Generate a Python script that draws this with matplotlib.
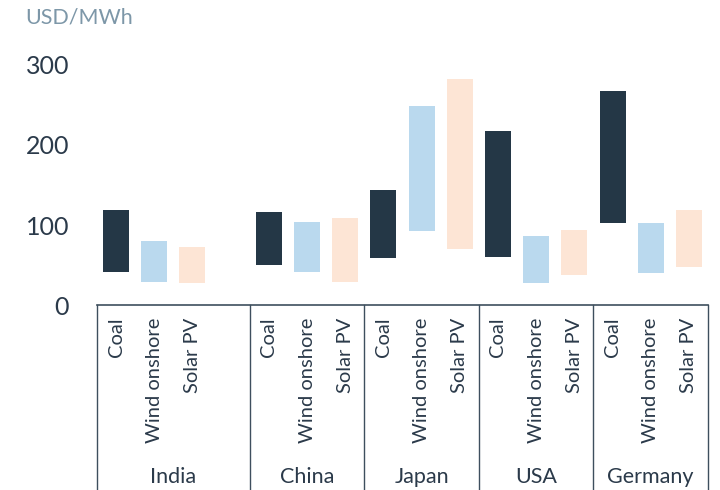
import matplotlib.pyplot as plt

countries = ["India", "China", "Japan", "USA", "Germany"]
techs = ["Coal", "Wind onshore", "Solar PV"]

# low / high ends of each range, one list per technology, in country order
coal_low = [41, 50, 59, 60, 102]
coal_high = [119, 116, 144, 218, 268]
wind_low = [29, 41, 93, 27, 40]
wind_high = [80, 104, 249, 86, 103]
solar_low = [27, 29, 70, 38, 48]
solar_high = [72, 109, 283, 94, 119]

colors = ["#243746", "#bad9ee", "#fde5d5"]
text_col = "#2b3a4a"
line_col = "#3e4f5e"

plt.rcParams['font.family'] = ['Lato', 'DejaVu Sans']

fig = plt.figure(figsize=(7.2, 4.9), dpi=100)
ax = fig.add_axes([97 / 720, 185 / 490, 611 / 720, 256 / 490])

# India takes four slots, the others three
group_start = [0, 4, 7, 10, 13]
lows = [coal_low, wind_low, solar_low]
highs = [coal_high, wind_high, solar_high]

for t in range(3):
    xs = [g + t for g in group_start]
    h = [hi - lo for hi, lo in zip(highs[t], lows[t])]
    ax.bar(xs, h, bottom=lows[t], width=0.68, color=colors[t])
    for x in xs:
        ax.text(x, -0.05, techs[t], transform=ax.get_xaxis_transform(),
                rotation=90, ha='center', va='top', fontsize=14.5, color=text_col)

ax.set_xlim(-0.5, 15.5)
ax.set_ylim(0, 320)
ax.set_yticks([0, 100, 200, 300])
ax.tick_params(axis='y', length=0, pad=20, labelsize=18, labelcolor=text_col)
ax.set_xticks([])
for s in ax.spines.values():
    s.set_visible(False)

# box below the axis
tr = ax.get_xaxis_transform()
ax.plot([-0.5, 15.5], [0, 0], transform=tr, color=line_col, lw=1.2, clip_on=False)
edges = [-0.5, 3.5, 6.5, 9.5, 12.5, 15.5]
for e in edges:
    ax.plot([e, e], [0, -0.75], transform=tr, color=line_col, lw=1.0, clip_on=False)

centers = [1.5, 5, 8, 11, 14]
for c, name in zip(centers, countries):
    ax.text(c, -0.672, name, transform=tr, ha='center', va='center',
            fontsize=15.5, color=text_col)

fig.text(25 / 720, 1 - 18 / 490, "USD/MWh", ha='left', va='center',
         fontsize=15.5, color="#7d97a8")

fig.savefig("out.png", dpi=100)
